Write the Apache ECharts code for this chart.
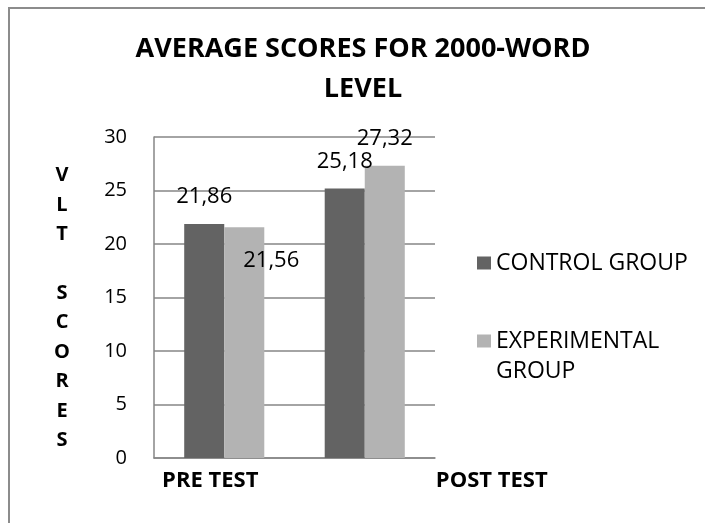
<!DOCTYPE html>
<html>
<head>
<meta charset="utf-8">
<script src="https://cdn.jsdelivr.net/npm/echarts@6/dist/echarts.min.js"></script>
<style>
    body { margin: 0; background: #fff; }
    #frame { position: absolute; left: 8px; top: 7px; width: 697px; height: 516px;
             border-left: 2px solid #8c8c8c; border-top: 2px solid #8c8c8c; }
    #chart { position: absolute; left: 0; top: 0; width: 705px; height: 523px; }
</style>
</head>
<body>
<div id="frame"></div>
<div id="chart"></div>
<script>
var categories = ['PRE TEST', 'POST TEST'];
var seriesNames = ['CONTROL GROUP', 'EXPERIMENTAL GROUP'];
var controlScores = [21.86, 25.18];
var experimentalScores = [21.56, 27.32];

var font = 'Open Sans';

function fmt(p) {
    return p.value.toFixed(2).replace('.', ',');
}

var myChart = echarts.init(document.getElementById('chart'));
option = {
    textStyle: { fontFamily: font },
    title: {
        text: 'AVERAGE SCORES FOR 2000-WORD\nLEVEL',
        left: 363,
        top: 29,
        padding: 0,
        textAlign: 'center',
        textStyle: {
            fontFamily: font,
            fontSize: 27,
            fontWeight: 'bold',
            lineHeight: 40,
            color: '#000'
        }
    },
    legend: {
        orient: 'vertical',
        left: 477,
        top: 248,
        padding: 0,
        itemWidth: 14,
        itemHeight: 13,
        itemGap: 18,
        icon: 'rect',
        data: seriesNames,
        formatter: function (name) {
            // icon sits on the first line of the wrapped name
            return name === 'EXPERIMENTAL GROUP' ? '\nEXPERIMENTAL\nGROUP' : name;
        },
        textStyle: {
            fontFamily: font,
            fontSize: 23,
            lineHeight: 30,
            color: '#000'
        }
    },
    grid: {
        left: 154,
        right: 270,
        top: 137,
        bottom: 65
    },
    xAxis: {
        type: 'category',
        data: categories,
        axisLine: { lineStyle: { color: '#868686', width: 1.5 } },
        axisTick: { show: false },
        axisLabel: {
            margin: 12,
            interval: 0,
            formatter: function (v, i) {
                return i === 0 ? '{a|' + v + '}' : '{b|' + v + '}';
            },
            rich: {
                a: { fontFamily: font, fontSize: 22, fontWeight: 'bold', color: '#000', padding: [0, 28, 0, 0] },
                b: { fontFamily: font, fontSize: 22, fontWeight: 'bold', color: '#000', padding: [0, 0, 0, 254] }
            }
        }
    },
    yAxis: {
        type: 'value',
        min: 0,
        max: 30,
        interval: 5,
        // small spacer line on top pushes the letter column down a little
        name: '{t| }\nV\nL\nT\n\nS\nC\nO\nR\nE\nS',
        nameLocation: 'middle',
        nameRotate: 0,
        nameGap: 92,
        nameTextStyle: {
            fontFamily: font,
            fontSize: 20,
            fontWeight: 'bold',
            lineHeight: 29.4,
            color: '#000',
            align: 'center',
            verticalAlign: 'middle',
            rich: {
                t: { fontSize: 10, lineHeight: 21 }
            }
        },
        axisLine: { show: true, lineStyle: { color: '#868686', width: 1.5 } },
        axisTick: { show: false },
        axisLabel: { margin: 27, fontFamily: font, fontSize: 20, color: '#000' },
        splitLine: { lineStyle: { color: '#868686', width: 1.5 } }
    },
    series: [
        {
            name: seriesNames[0],
            type: 'bar',
            data: controlScores,
            barGap: '0%',
            barCategoryGap: '43%',
            itemStyle: { color: '#636363' },
            label: { show: true, position: 'top', distance: 16, fontSize: 22, color: '#000', formatter: fmt }
        },
        {
            name: seriesNames[1],
            type: 'bar',
            data: experimentalScores.map(function (v, i) {
                return i === 0 ? { value: v, label: { offset: [27, 60] } } : v;
            }),
            barGap: '0%',
            barCategoryGap: '43%',
            itemStyle: { color: '#b3b3b3' },
            label: { show: true, position: 'top', distance: 16, fontSize: 22, color: '#000', formatter: fmt }
        }
    ]
};

myChart.setOption(option);
</script>
</body>
</html>
